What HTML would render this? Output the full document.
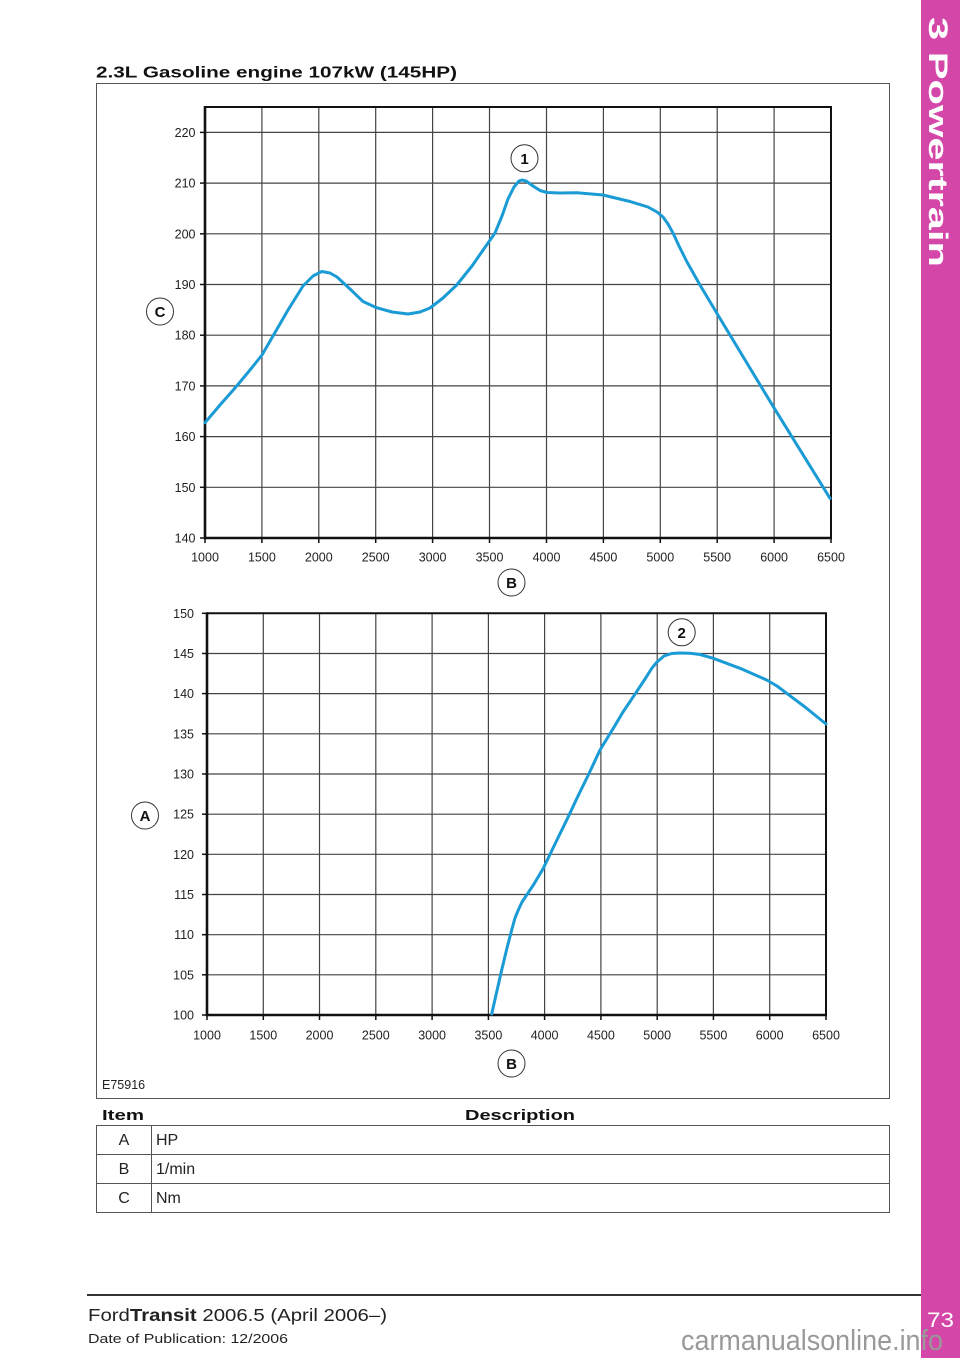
<!DOCTYPE html>
<html><head><meta charset="utf-8"><style>
html,body{margin:0;padding:0;background:#fff;}
svg{display:block;}
text{font-family:"Liberation Sans",Arial,sans-serif;}
</style></head><body>
<svg width="960" height="1358" viewBox="0 0 960 1358" xmlns="http://www.w3.org/2000/svg">
<rect width="960" height="1358" fill="#fff"/>
<!-- pink side bar -->
<rect x="921" y="0" width="39" height="1358" fill="#d446a7"/>
<text transform="translate(929,17) rotate(90)" font-size="27" font-weight="bold" fill="#fff" textLength="250" lengthAdjust="spacingAndGlyphs">3 Powertrain</text>

<!-- title -->
<text x="96" y="77.5" font-size="15.5" font-weight="bold" fill="#111" textLength="361" lengthAdjust="spacingAndGlyphs">2.3L Gasoline engine 107kW (145HP)</text>

<!-- outer frame -->
<rect x="96.5" y="83.5" width="793" height="1015" fill="none" stroke="#555" stroke-width="1"/>

<!-- ===== TOP CHART ===== -->
<g stroke="#444" stroke-width="1.2">
<line x1="261.9" y1="107" x2="261.9" y2="538"/>
<line x1="318.8" y1="107" x2="318.8" y2="538"/>
<line x1="375.7" y1="107" x2="375.7" y2="538"/>
<line x1="432.6" y1="107" x2="432.6" y2="538"/>
<line x1="489.5" y1="107" x2="489.5" y2="538"/>
<line x1="546.5" y1="107" x2="546.5" y2="538"/>
<line x1="603.4" y1="107" x2="603.4" y2="538"/>
<line x1="660.3" y1="107" x2="660.3" y2="538"/>
<line x1="717.2" y1="107" x2="717.2" y2="538"/>
<line x1="774.1" y1="107" x2="774.1" y2="538"/>
<line x1="205" y1="487.3" x2="831" y2="487.3"/>
<line x1="205" y1="436.6" x2="831" y2="436.6"/>
<line x1="205" y1="385.9" x2="831" y2="385.9"/>
<line x1="205" y1="335.2" x2="831" y2="335.2"/>
<line x1="205" y1="284.5" x2="831" y2="284.5"/>
<line x1="205" y1="233.8" x2="831" y2="233.8"/>
<line x1="205" y1="183.1" x2="831" y2="183.1"/>
<line x1="205" y1="132.4" x2="831" y2="132.4"/>
</g>
<!-- y ticks top -->
<g stroke="#111" stroke-width="1.5">
<line x1="200" y1="538" x2="205" y2="538"/>
<line x1="200" y1="487.3" x2="205" y2="487.3"/>
<line x1="200" y1="436.6" x2="205" y2="436.6"/>
<line x1="200" y1="385.9" x2="205" y2="385.9"/>
<line x1="200" y1="335.2" x2="205" y2="335.2"/>
<line x1="200" y1="284.5" x2="205" y2="284.5"/>
<line x1="200" y1="233.8" x2="205" y2="233.8"/>
<line x1="200" y1="183.1" x2="205" y2="183.1"/>
<line x1="200" y1="132.4" x2="205" y2="132.4"/>
<line x1="205" y1="538" x2="205" y2="543"/>
<line x1="261.9" y1="538" x2="261.9" y2="543"/>
<line x1="318.8" y1="538" x2="318.8" y2="543"/>
<line x1="375.7" y1="538" x2="375.7" y2="543"/>
<line x1="432.6" y1="538" x2="432.6" y2="543"/>
<line x1="489.5" y1="538" x2="489.5" y2="543"/>
<line x1="546.5" y1="538" x2="546.5" y2="543"/>
<line x1="603.4" y1="538" x2="603.4" y2="543"/>
<line x1="660.3" y1="538" x2="660.3" y2="543"/>
<line x1="717.2" y1="538" x2="717.2" y2="543"/>
<line x1="774.1" y1="538" x2="774.1" y2="543"/>
<line x1="831" y1="538" x2="831" y2="543"/>
</g>
<!-- frame top chart -->
<line x1="205" y1="107" x2="832" y2="107" stroke="#111" stroke-width="2"/>
<line x1="831" y1="107" x2="831" y2="539" stroke="#111" stroke-width="2"/>
<line x1="205" y1="106" x2="205" y2="539.3" stroke="#111" stroke-width="2.6"/>
<line x1="204" y1="538" x2="832" y2="538" stroke="#111" stroke-width="2.6"/>
<!-- y labels top -->
<g font-size="12.5" fill="#222" text-anchor="end">
<text x="195.5" y="542.5">140</text>
<text x="195.5" y="491.8">150</text>
<text x="195.5" y="441.1">160</text>
<text x="195.5" y="390.4">170</text>
<text x="195.5" y="339.7">180</text>
<text x="195.5" y="289">190</text>
<text x="195.5" y="238.3">200</text>
<text x="195.5" y="187.6">210</text>
<text x="195.5" y="136.9">220</text>
</g>
<g font-size="12.5" fill="#222" text-anchor="middle">
<text x="205" y="561.7">1000</text>
<text x="261.9" y="561.7">1500</text>
<text x="318.8" y="561.7">2000</text>
<text x="375.7" y="561.7">2500</text>
<text x="432.6" y="561.7">3000</text>
<text x="489.5" y="561.7">3500</text>
<text x="546.5" y="561.7">4000</text>
<text x="603.4" y="561.7">4500</text>
<text x="660.3" y="561.7">5000</text>
<text x="717.2" y="561.7">5500</text>
<text x="774.1" y="561.7">6000</text>
<text x="831" y="561.7">6500</text>
</g>
<!-- torque curve -->
<polyline fill="none" stroke="#1a9bd5" stroke-width="3" stroke-linejoin="round" stroke-linecap="round" points="205,422.7 220,405 235,388 250,370 262,355 273,336 288,310 303,286 313,276 321.7,271.5 330,273 337,277 350,289 363,301.5 376,307.5 392,312 408,314 420,312 430,308 443,298 456.7,285 472,266 488,243 495,233 502,216 508,199 514,187 519,181 522,180 526,181 533,186 540,190.5 547,192.5 560,193 577,192.7 603,195 630,201.5 648,207 657,212 663,217 668,224 673,233 679,246 687,262 700,285 716.7,313 773.3,406.7 830,498.3"/>
<!-- callouts top -->
<g fill="#fff" stroke="#333" stroke-width="1">
<circle cx="524.5" cy="158.3" r="13.5"/>
<circle cx="160" cy="311.5" r="13.5"/>
<circle cx="511.5" cy="582.5" r="13.5"/>
</g>
<g font-size="15" font-weight="bold" fill="#111" text-anchor="middle">
<text x="524.5" y="163.8">1</text>
<text x="160" y="317">C</text>
<text x="511.5" y="588">B</text>
</g>

<!-- ===== BOTTOM CHART ===== -->
<g stroke="#444" stroke-width="1.2">
<line x1="263.3" y1="613" x2="263.3" y2="1015"/>
<line x1="319.5" y1="613" x2="319.5" y2="1015"/>
<line x1="375.8" y1="613" x2="375.8" y2="1015"/>
<line x1="432.1" y1="613" x2="432.1" y2="1015"/>
<line x1="488.4" y1="613" x2="488.4" y2="1015"/>
<line x1="544.6" y1="613" x2="544.6" y2="1015"/>
<line x1="600.9" y1="613" x2="600.9" y2="1015"/>
<line x1="657.2" y1="613" x2="657.2" y2="1015"/>
<line x1="713.4" y1="613" x2="713.4" y2="1015"/>
<line x1="769.7" y1="613" x2="769.7" y2="1015"/>
<line x1="207" y1="974.8" x2="826" y2="974.8"/>
<line x1="207" y1="934.7" x2="826" y2="934.7"/>
<line x1="207" y1="894.5" x2="826" y2="894.5"/>
<line x1="207" y1="854.3" x2="826" y2="854.3"/>
<line x1="207" y1="814.2" x2="826" y2="814.2"/>
<line x1="207" y1="774" x2="826" y2="774"/>
<line x1="207" y1="733.8" x2="826" y2="733.8"/>
<line x1="207" y1="693.6" x2="826" y2="693.6"/>
<line x1="207" y1="653.5" x2="826" y2="653.5"/>
</g>
<g stroke="#111" stroke-width="1.5">
<line x1="202" y1="1015" x2="207" y2="1015"/>
<line x1="202" y1="974.8" x2="207" y2="974.8"/>
<line x1="202" y1="934.7" x2="207" y2="934.7"/>
<line x1="202" y1="894.5" x2="207" y2="894.5"/>
<line x1="202" y1="854.3" x2="207" y2="854.3"/>
<line x1="202" y1="814.2" x2="207" y2="814.2"/>
<line x1="202" y1="774" x2="207" y2="774"/>
<line x1="202" y1="733.8" x2="207" y2="733.8"/>
<line x1="202" y1="693.6" x2="207" y2="693.6"/>
<line x1="202" y1="653.5" x2="207" y2="653.5"/>
<line x1="202" y1="613.3" x2="207" y2="613.3"/>
<line x1="207" y1="1015" x2="207" y2="1020"/>
<line x1="263.3" y1="1015" x2="263.3" y2="1020"/>
<line x1="319.5" y1="1015" x2="319.5" y2="1020"/>
<line x1="375.8" y1="1015" x2="375.8" y2="1020"/>
<line x1="432.1" y1="1015" x2="432.1" y2="1020"/>
<line x1="488.4" y1="1015" x2="488.4" y2="1020"/>
<line x1="544.6" y1="1015" x2="544.6" y2="1020"/>
<line x1="600.9" y1="1015" x2="600.9" y2="1020"/>
<line x1="657.2" y1="1015" x2="657.2" y2="1020"/>
<line x1="713.4" y1="1015" x2="713.4" y2="1020"/>
<line x1="769.7" y1="1015" x2="769.7" y2="1020"/>
<line x1="826" y1="1015" x2="826" y2="1020"/>
</g>
<line x1="207" y1="613.3" x2="827" y2="613.3" stroke="#111" stroke-width="2"/>
<line x1="826" y1="613" x2="826" y2="1016" stroke="#111" stroke-width="2"/>
<line x1="207" y1="612.3" x2="207" y2="1016.3" stroke="#111" stroke-width="2.6"/>
<line x1="206" y1="1015" x2="827" y2="1015" stroke="#111" stroke-width="2.6"/>
<g font-size="12.5" fill="#222" text-anchor="end">
<text x="194" y="1019.5">100</text>
<text x="194" y="979.3">105</text>
<text x="194" y="939.2">110</text>
<text x="194" y="899">115</text>
<text x="194" y="858.8">120</text>
<text x="194" y="818.7">125</text>
<text x="194" y="778.5">130</text>
<text x="194" y="738.3">135</text>
<text x="194" y="698.1">140</text>
<text x="194" y="658">145</text>
<text x="194" y="617.8">150</text>
</g>
<g font-size="12.5" fill="#222" text-anchor="middle">
<text x="207" y="1039.5">1000</text>
<text x="263.3" y="1039.5">1500</text>
<text x="319.5" y="1039.5">2000</text>
<text x="375.8" y="1039.5">2500</text>
<text x="432.1" y="1039.5">3000</text>
<text x="488.4" y="1039.5">3500</text>
<text x="544.6" y="1039.5">4000</text>
<text x="600.9" y="1039.5">4500</text>
<text x="657.2" y="1039.5">5000</text>
<text x="713.4" y="1039.5">5500</text>
<text x="769.7" y="1039.5">6000</text>
<text x="826" y="1039.5">6500</text>
</g>
<polyline fill="none" stroke="#1a9bd5" stroke-width="3" stroke-linejoin="round" stroke-linecap="round" points="491.7,1014 496,995 501.7,970 507,948 511.7,930 515,918 518.3,910 522,902 526.7,895 534,884 543.3,868.3 555,844 568.3,816.7 578,796 588.3,775 600,750 613.3,728.3 623,712 633.3,696.7 645,679 652,668 657,662 664,656 671.7,653.5 680,653 690,653.3 700,654.5 713.3,658.3 740,668.3 766.7,680 777,686 786.7,693.3 805,707 826,724"/>
<g fill="#fff" stroke="#333" stroke-width="1">
<circle cx="681.7" cy="632.3" r="13.5"/>
<circle cx="145" cy="815.5" r="13.5"/>
<circle cx="511.5" cy="1063.5" r="13.5"/>
</g>
<g font-size="15" font-weight="bold" fill="#111" text-anchor="middle">
<text x="681.7" y="637.8">2</text>
<text x="145" y="821">A</text>
<text x="511.5" y="1069">B</text>
</g>

<text x="102" y="1089" font-size="12.5" fill="#222">E75916</text>

<!-- table -->
<text x="102" y="1120" font-size="15" font-weight="bold" fill="#111" textLength="42" lengthAdjust="spacingAndGlyphs">Item</text>
<text x="465" y="1120" font-size="15" font-weight="bold" fill="#111" textLength="110" lengthAdjust="spacingAndGlyphs">Description</text>
<g stroke="#555" stroke-width="1" fill="none">
<rect x="96.5" y="1125.5" width="793" height="87"/>
<line x1="96.5" y1="1154.5" x2="889.5" y2="1154.5"/>
<line x1="96.5" y1="1183.5" x2="889.5" y2="1183.5"/>
<line x1="151.5" y1="1125.5" x2="151.5" y2="1212.5"/>
</g>
<g font-size="16" fill="#222">
<text x="124" y="1145" text-anchor="middle">A</text>
<text x="156" y="1145">HP</text>
<text x="124" y="1174" text-anchor="middle">B</text>
<text x="156" y="1174">1/min</text>
<text x="124" y="1203" text-anchor="middle">C</text>
<text x="156" y="1203">Nm</text>
</g>

<!-- footer -->
<line x1="87" y1="1295" x2="921" y2="1295" stroke="#333" stroke-width="2"/>
<text x="88" y="1321" font-size="17.5" fill="#222" textLength="299" lengthAdjust="spacingAndGlyphs">Ford<tspan font-weight="bold">Transit</tspan> 2006.5 (April 2006–)</text>
<text x="88" y="1343" font-size="13" fill="#222" textLength="200" lengthAdjust="spacingAndGlyphs">Date of Publication: 12/2006</text>
<text x="927" y="1327" font-size="21" fill="#fff" textLength="27" lengthAdjust="spacingAndGlyphs">73</text>
<text x="681" y="1350" font-size="29" fill="#999" textLength="262" lengthAdjust="spacingAndGlyphs">carmanualsonline.info</text>
</svg>
</body></html>
